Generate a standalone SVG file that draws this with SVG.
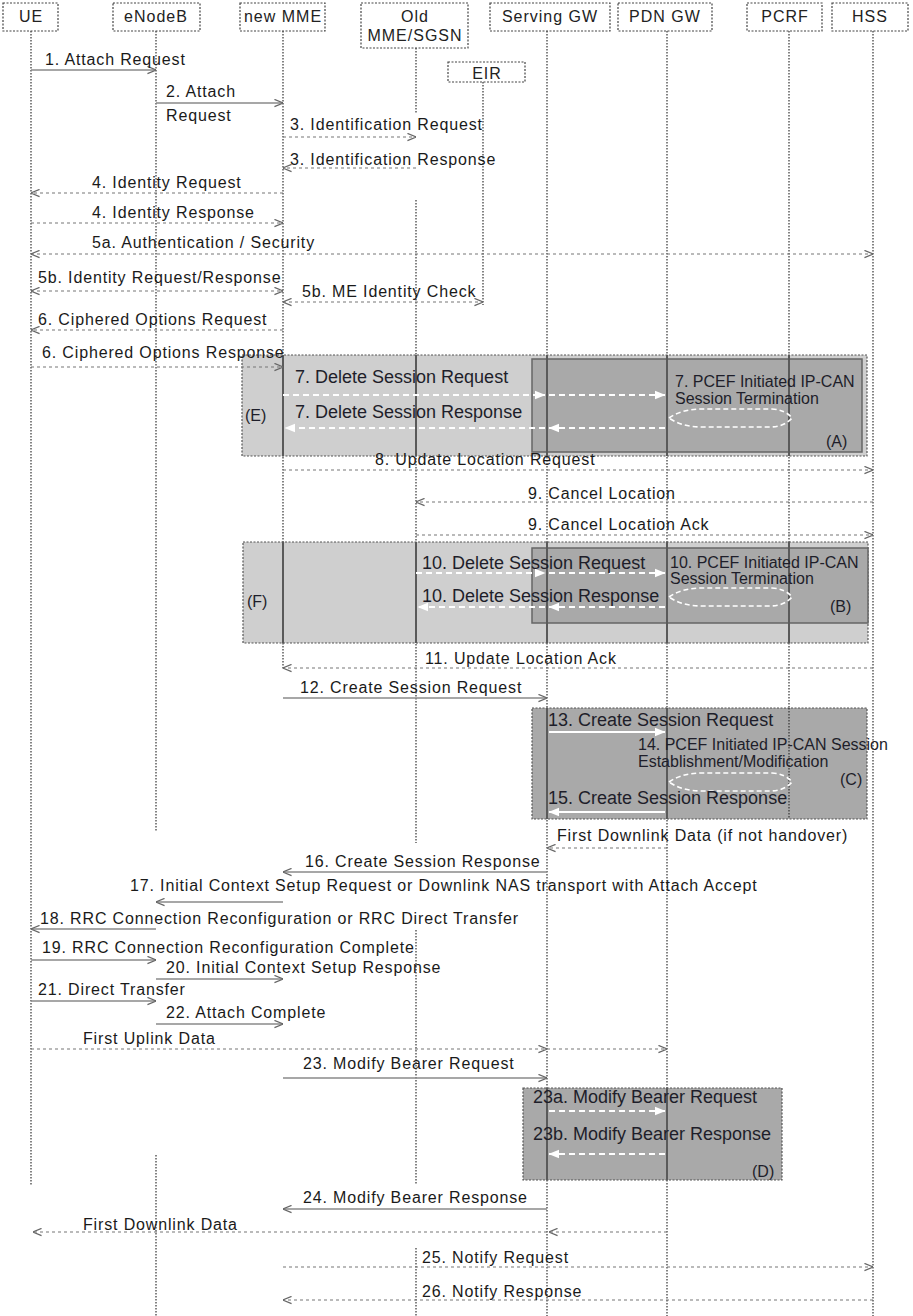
<svg xmlns="http://www.w3.org/2000/svg" width="913" height="1316" viewBox="0 0 913 1316">
<defs>
<marker id="ah" viewBox="0 0 10 10" refX="9.5" refY="5" markerWidth="9" markerHeight="9" markerUnits="userSpaceOnUse" orient="auto-start-reverse"><path d="M0,1 L10,5 L0,9" fill="none" stroke="#666" stroke-width="1.4"/></marker>
<marker id="wh" viewBox="0 0 10 10" refX="9.5" refY="5" markerWidth="11" markerHeight="11" markerUnits="userSpaceOnUse" orient="auto-start-reverse"><path d="M0,1 L10,5 L0,9 Z" fill="#fff"/></marker>
</defs>
<style>
.hdr{fill:#fff;stroke:#444;stroke-width:1.2;stroke-dasharray:2,1.5}
.ht{font-family:"Liberation Sans",Arial,sans-serif;font-size:16px;letter-spacing:1px;fill:#222;text-anchor:middle}
.ll{stroke:#333;stroke-width:1.2;stroke-dasharray:1.5,1.5;fill:none}
.t{font-family:"Liberation Sans",Arial,sans-serif;font-size:16px;letter-spacing:0.85px;fill:#1a1a1a}
.bt{font-family:"Liberation Sans",Arial,sans-serif;font-size:18px;fill:#1e1e2a}
.bs{font-family:"Liberation Sans",Arial,sans-serif;font-size:16px;fill:#1e1e2a}
.da{stroke:#777;stroke-width:1.2;stroke-dasharray:3,3;fill:none;marker-end:url(#ah)}
.sa{stroke:#8a8a8a;stroke-width:1.6;fill:none;marker-end:url(#ah)}
.both{marker-start:url(#ah)}
.wd{stroke:#fff;stroke-width:2;stroke-dasharray:6,4;fill:none;marker-end:url(#wh)}
.ws{stroke:#fff;stroke-width:2;fill:none;marker-end:url(#wh)}
.loop{stroke:#fff;stroke-width:1.6;stroke-dasharray:5,3;fill:none}
.outer{fill:#cfcfcf;stroke:#555;stroke-width:1.2;stroke-dasharray:2,1.5}
.inner{fill:#a9a9a9;stroke:#666;stroke-width:1.5}
.dbox{fill:#a9a9a9;stroke:#555;stroke-width:1.2;stroke-dasharray:2,1.5}
.vl{stroke:#5a5a5a;stroke-width:2}
</style>

<g id="lifelines">
<g id="node-ue"><line class="ll" x1="31" y1="31" x2="31" y2="1185"/><rect class="hdr" x="3" y="3" width="55" height="28"/><text class="ht" x="31" y="22">UE</text></g>
<g id="node-enodeb"><line class="ll" x1="156" y1="31" x2="156" y2="831"/><line class="ll" x1="156" y1="1155" x2="156" y2="1316"/><rect class="hdr" x="113" y="3" width="87" height="28"/><text class="ht" x="156" y="22">eNodeB</text></g>
<g id="node-newmme"><line class="ll" x1="283" y1="31" x2="283" y2="670"/><rect class="hdr" x="240" y="3" width="85" height="28"/><text class="ht" x="283" y="22">new MME</text></g>
<g id="node-oldmme"><line class="ll" x1="416" y1="48" x2="416" y2="113"/><line class="ll" x1="416" y1="200" x2="416" y2="843"/><line class="ll" x1="416" y1="930" x2="416" y2="1185"/><line class="ll" x1="416" y1="1248" x2="416" y2="1316"/><rect class="hdr" x="361" y="3" width="107" height="45"/><text class="ht" x="415" y="22">Old</text><text class="ht" x="415" y="41">MME/SGSN</text></g>
<g id="node-eir"><line class="ll" x1="483" y1="82" x2="483" y2="305"/><rect class="hdr" x="448" y="62" width="77" height="20"/><text class="ht" x="487" y="79">EIR</text></g>
<g id="node-sgw"><line class="ll" x1="547" y1="31" x2="547" y2="1316"/><rect class="hdr" x="490" y="3" width="120" height="28"/><text class="ht" x="550" y="22">Serving GW</text></g>
<g id="node-pgw"><line class="ll" x1="667" y1="31" x2="667" y2="1316"/><rect class="hdr" x="618" y="3" width="94" height="28"/><text class="ht" x="665" y="22">PDN GW</text></g>
<g id="node-pcrf"><line class="ll" x1="789" y1="31" x2="789" y2="819"/><rect class="hdr" x="747" y="3" width="75" height="28"/><text class="ht" x="785" y="22">PCRF</text></g>
<g id="node-hss"><line class="ll" x1="873" y1="31" x2="873" y2="1316"/><rect class="hdr" x="832" y="3" width="76" height="28"/><text class="ht" x="870" y="22">HSS</text></g>
</g>

<g id="box-E">
<rect class="outer" x="242" y="355" width="625" height="101"/>
<rect class="inner" x="532" y="359" width="330" height="93"/>
<line class="vl" x1="283" y1="355" x2="283" y2="456"/><line class="vl" x1="416" y1="355" x2="416" y2="456"/>
<line class="vl" x1="547" y1="355" x2="547" y2="456"/><line class="vl" x1="667" y1="355" x2="667" y2="456"/><line class="vl" x1="789" y1="355" x2="789" y2="456"/>
<text class="bs" x="245" y="421">(E)</text><text class="bs" x="826" y="447">(A)</text>
<text class="bs" x="675" y="387">7. PCEF Initiated IP-CAN</text><text class="bs" x="675" y="404">Session Termination</text>
<path class="loop" d="M669,418 Q682,409 702,409 L772,409 Q786,410 792,418 Q784,427 770,427 L702,427 Q682,427 669,418 Z"/>
</g>

<g id="box-F">
<rect class="outer" x="243" y="542" width="625" height="101"/>
<rect class="inner" x="532" y="548" width="336" height="75"/>
<line class="vl" x1="283" y1="542" x2="283" y2="643"/><line class="vl" x1="416" y1="542" x2="416" y2="643"/>
<line class="vl" x1="547" y1="542" x2="547" y2="643"/><line class="vl" x1="667" y1="542" x2="667" y2="643"/><line class="vl" x1="789" y1="542" x2="789" y2="643"/>
<text class="bs" x="247" y="607">(F)</text><text class="bs" x="830" y="612">(B)</text>
<text class="bs" x="670" y="568">10. PCEF Initiated IP-CAN</text><text class="bs" x="670" y="584">Session Termination</text>
<path class="loop" d="M669,597 Q682,588 702,588 L772,588 Q786,589 792,597 Q784,606 770,606 L702,606 Q682,606 669,597 Z"/>
</g>

<g id="box-C">
<rect class="dbox" x="532" y="708" width="335" height="111"/>
<line class="vl" x1="547" y1="708" x2="547" y2="819"/><line class="vl" x1="667" y1="708" x2="667" y2="819"/>
<line class="ll" x1="789" y1="708" x2="789" y2="819"/>
<text class="bs" x="840" y="785">(C)</text>
<text class="bs" x="638" y="750">14. PCEF Initiated IP-CAN Session</text><text class="bs" x="638" y="767">Establishment/Modification</text>
<path class="loop" d="M669,782 Q682,773 702,773 L772,773 Q786,774 792,782 Q784,791 770,791 L702,791 Q682,791 669,782 Z"/>
</g>

<g id="box-D">
<rect class="dbox" x="523" y="1088" width="259" height="92"/>
<line class="vl" x1="547" y1="1088" x2="547" y2="1180"/><line class="vl" x1="667" y1="1088" x2="667" y2="1180"/>
<text class="bs" x="752" y="1177">(D)</text>
</g>

<g id="connectors">
<line class="sa" x1="31" y1="70" x2="156" y2="70"/>
<line class="sa" x1="156" y1="103" x2="283" y2="103"/>
<line class="da" x1="283" y1="137" x2="416" y2="137"/>
<line class="da" x1="416" y1="168" x2="283" y2="168"/>
<line class="da" x1="283" y1="193" x2="31" y2="193"/>
<line class="da" x1="31" y1="223" x2="283" y2="223"/>
<line class="da both" x1="31" y1="254" x2="873" y2="254"/>
<line class="da both" x1="31" y1="291" x2="283" y2="291"/>
<line class="da both" x1="283" y1="302" x2="483" y2="302"/>
<line class="da" x1="283" y1="330" x2="31" y2="330"/>
<line class="da" x1="31" y1="367" x2="283" y2="367"/>
<line class="wd" x1="283" y1="395" x2="545" y2="395"/>
<line class="wd" x1="549" y1="395" x2="665" y2="395"/>
<line class="wd" x1="665" y1="428" x2="549" y2="428"/>
<line class="wd" x1="545" y1="428" x2="285" y2="428"/>
<line class="da" x1="283" y1="470" x2="873" y2="470"/>
<line class="da" x1="873" y1="502" x2="416" y2="502"/>
<line class="da" x1="416" y1="535" x2="873" y2="535"/>
<line class="wd" x1="416" y1="573" x2="545" y2="573"/>
<line class="wd" x1="549" y1="573" x2="665" y2="573"/>
<line class="wd" x1="665" y1="607" x2="549" y2="607"/>
<line class="wd" x1="545" y1="607" x2="418" y2="607"/>
<line class="da" x1="873" y1="668" x2="283" y2="668"/>
<line class="sa" x1="283" y1="698" x2="547" y2="698"/>
<line class="ws" x1="549" y1="732" x2="665" y2="732"/>
<line class="ws" x1="665" y1="812" x2="549" y2="812"/>
<line class="da" x1="667" y1="848" x2="547" y2="848"/>
<line class="sa" x1="547" y1="872" x2="283" y2="872"/>
<line class="sa" x1="283" y1="902" x2="156" y2="902"/>
<line class="sa" x1="156" y1="929" x2="31" y2="929"/>
<line class="sa" x1="31" y1="960" x2="156" y2="960"/>
<line class="sa" x1="156" y1="979" x2="283" y2="979"/>
<line class="sa" x1="31" y1="1001" x2="156" y2="1001"/>
<line class="sa" x1="156" y1="1024" x2="283" y2="1024"/>
<line class="da" x1="31" y1="1049" x2="547" y2="1049"/>
<line class="da" x1="547" y1="1049" x2="667" y2="1049"/>
<line class="sa" x1="283" y1="1078" x2="547" y2="1078"/>
<line class="wd" x1="549" y1="1111" x2="665" y2="1111"/>
<line class="wd" x1="665" y1="1154" x2="549" y2="1154"/>
<line class="sa" x1="547" y1="1209" x2="283" y2="1209"/>
<line class="da" x1="667" y1="1232" x2="549" y2="1232"/>
<line class="da" x1="547" y1="1232" x2="33" y2="1232"/>
<line class="da" x1="283" y1="1267" x2="873" y2="1267"/>
<line class="da" x1="873" y1="1300" x2="283" y2="1300"/>
</g>

<g id="labels">
<text class="t" x="45" y="65">1. Attach Request</text>
<text class="t" x="166" y="97">2. Attach</text>
<text class="t" x="166" y="121">Request</text>
<text class="t" x="290" y="130">3. Identification Request</text>
<text class="t" x="290" y="165">3. Identification Response</text>
<text class="t" x="92" y="188">4. Identity Request</text>
<text class="t" x="92" y="218">4. Identity Response</text>
<text class="t" x="92" y="248">5a. Authentication / Security</text>
<text class="t" x="38" y="283">5b. Identity Request/Response</text>
<text class="t" x="302" y="297">5b. ME Identity Check</text>
<text class="t" x="38" y="325">6. Ciphered Options Request</text>
<text class="t" x="42" y="358">6. Ciphered Options Response</text>
<text class="bt" x="295" y="383">7. Delete Session Request</text>
<text class="bt" x="295" y="418">7. Delete Session Response</text>
<text class="t" x="375" y="465">8. Update Location Request</text>
<text class="t" x="528" y="499">9. Cancel Location</text>
<text class="t" x="528" y="530">9. Cancel Location Ack</text>
<text class="bt" x="422" y="569">10. Delete Session Request</text>
<text class="bt" x="422" y="602">10. Delete Session Response</text>
<text class="t" x="425" y="664">11. Update Location Ack</text>
<text class="t" x="300" y="693">12. Create Session Request</text>
<text class="bt" x="548" y="726">13. Create Session Request</text>
<text class="bt" x="548" y="804">15. Create Session Response</text>
<text class="t" x="557" y="841">First Downlink Data (if not handover)</text>
<text class="t" x="305" y="867">16. Create Session Response</text>
<text class="t" x="130" y="891">17. Initial Context Setup Request or Downlink NAS transport with Attach Accept</text>
<text class="t" x="40" y="924">18. RRC Connection Reconfiguration or RRC Direct Transfer</text>
<text class="t" x="42" y="953">19. RRC Connection Reconfiguration Complete</text>
<text class="t" x="166" y="973">20. Initial Context Setup Response</text>
<text class="t" x="38" y="995">21. Direct Transfer</text>
<text class="t" x="166" y="1018">22. Attach Complete</text>
<text class="t" x="83" y="1044">First Uplink Data</text>
<text class="t" x="303" y="1069">23. Modify Bearer Request</text>
<text class="bt" x="533" y="1103">23a. Modify Bearer Request</text>
<text class="bt" x="533" y="1140">23b. Modify Bearer Response</text>
<text class="t" x="303" y="1203">24. Modify Bearer Response</text>
<text class="t" x="83" y="1230">First Downlink Data</text>
<text class="t" x="422" y="1263">25. Notify Request</text>
<text class="t" x="422" y="1297">26. Notify Response</text>
</g>
</svg>
